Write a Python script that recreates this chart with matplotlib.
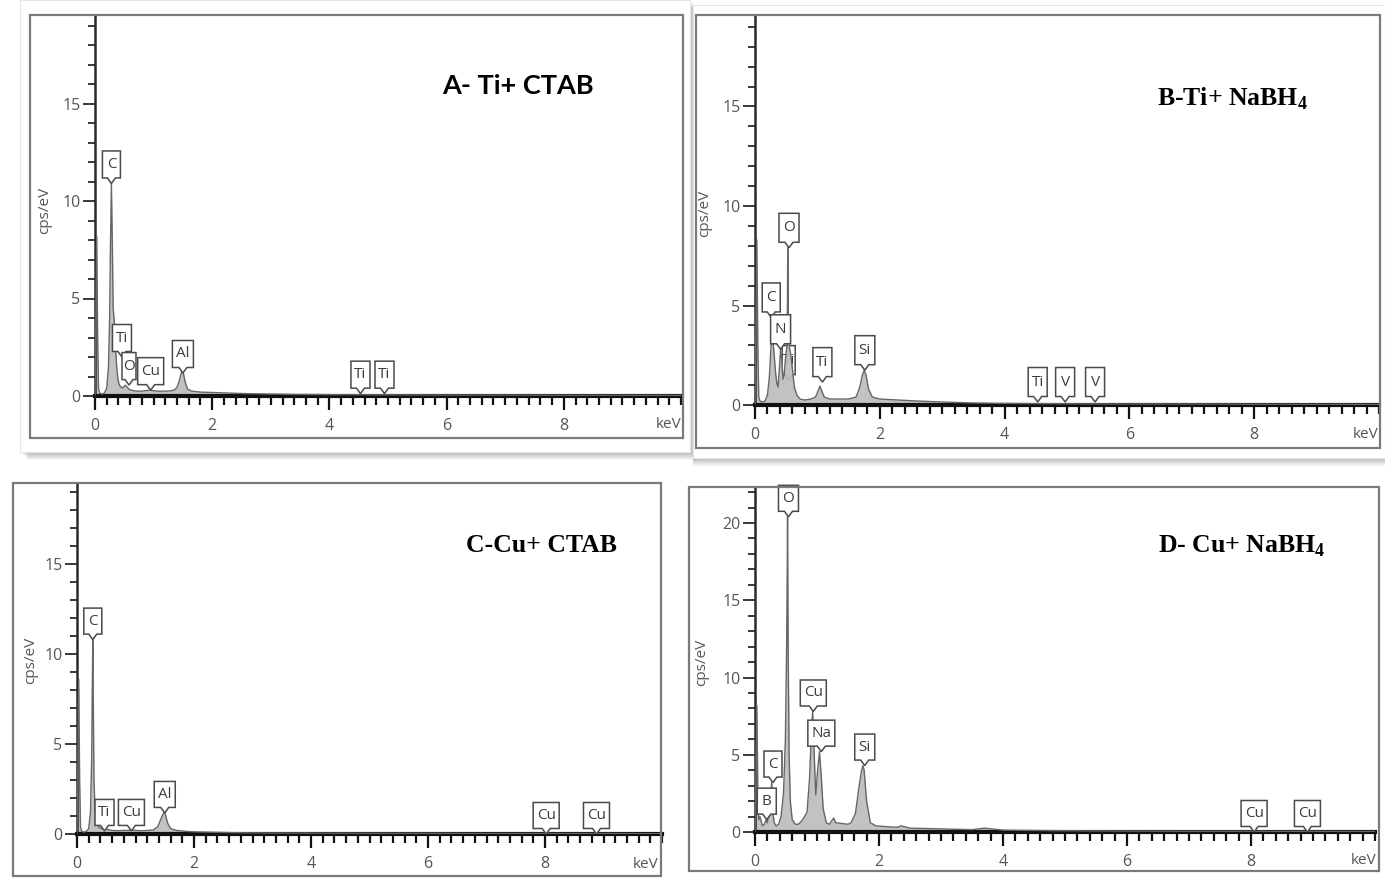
import matplotlib
matplotlib.use("Agg")
import matplotlib.pyplot as plt
from matplotlib.patches import Polygon, Rectangle
import matplotlib.transforms as mtransforms
from matplotlib.ticker import MultipleLocator

# ---------------- data ----------------
A_energy = [0.00, 0.015, 0.03, 0.045, 0.06, 0.08, 0.12, 0.16, 0.20, 0.23, 0.25, 0.265, 0.28, 0.295,
            0.31, 0.33, 0.35, 0.37, 0.39, 0.41, 0.43, 0.45, 0.47, 0.50, 0.52, 0.55, 0.58, 0.62, 0.70,
            0.80, 0.88, 0.93, 0.98, 1.05, 1.15, 1.25, 1.35, 1.40, 1.44, 1.47, 1.49, 1.51, 1.54, 1.58,
            1.65, 1.80, 2.00, 2.30, 2.60, 3.00, 3.50, 4.00, 4.50, 5.00, 6.00, 7.00, 8.00, 9.00, 10.00]
A_counts = [0.0, 4.0, 8.2, 3.0, 0.4, 0.15, 0.1, 0.15, 0.4, 1.5, 4.0, 8.0, 10.9, 8.0,
            4.5, 3.8, 2.5, 1.5, 0.9, 0.6, 0.5, 0.45, 0.4, 0.5, 0.55, 0.45, 0.35, 0.3, 0.25,
            0.25, 0.28, 0.3, 0.28, 0.25, 0.25, 0.25, 0.3, 0.45, 0.8, 1.15, 1.3, 1.15, 0.7, 0.35,
            0.25, 0.2, 0.18, 0.15, 0.12, 0.1, 0.08, 0.07, 0.07, 0.06, 0.05, 0.05, 0.04, 0.04, 0.03]

B_energy = [0.00, 0.015, 0.03, 0.045, 0.06, 0.08, 0.12, 0.16, 0.20, 0.23, 0.25, 0.27, 0.28, 0.29,
            0.31, 0.33, 0.35, 0.37, 0.39, 0.41, 0.43, 0.45, 0.47, 0.49, 0.51, 0.52, 0.525, 0.535,
            0.55, 0.57, 0.60, 0.63, 0.67, 0.72, 0.80, 0.90, 0.97, 1.01, 1.04, 1.07, 1.11, 1.20,
            1.35, 1.50, 1.62, 1.68, 1.72, 1.75, 1.78, 1.82, 1.88, 2.00, 2.30, 2.60, 3.00, 3.50,
            4.00, 5.00, 6.00, 7.00, 8.00, 9.00, 10.00]
B_counts = [0.0, 4.0, 8.3, 3.0, 0.4, 0.2, 0.15, 0.2, 0.5, 1.4, 2.6, 3.5, 4.4, 3.2,
            2.4, 1.6, 1.1, 0.9, 1.8, 2.8, 2.2, 1.3, 1.6, 2.4, 2.9, 5.0, 7.9, 4.0,
            2.9, 2.6, 1.8, 0.9, 0.5, 0.3, 0.25, 0.3, 0.4, 0.7, 0.95, 0.7, 0.4, 0.3,
            0.3, 0.3, 0.4, 0.9, 1.5, 1.75, 1.5, 0.8, 0.4, 0.3, 0.25, 0.2, 0.15, 0.1,
            0.08, 0.06, 0.05, 0.05, 0.04, 0.04, 0.03]

C_energy = [0.00, 0.015, 0.03, 0.045, 0.06, 0.08, 0.12, 0.16, 0.20, 0.23, 0.25, 0.26, 0.27, 0.28,
            0.29, 0.31, 0.34, 0.38, 0.42, 0.47, 0.52, 0.60, 0.70, 0.80, 0.90, 0.93, 1.00, 1.10,
            1.20, 1.30, 1.38, 1.43, 1.47, 1.49, 1.51, 1.55, 1.60, 1.70, 1.85, 2.00, 2.30, 2.60,
            3.00, 4.00, 5.00, 6.00, 7.00, 8.00, 8.05, 8.10, 9.00, 10.00]
C_counts = [0.0, 4.0, 8.6, 3.0, 0.4, 0.15, 0.1, 0.15, 0.3, 1.2, 4.0, 7.5, 10.8, 7.0,
            3.0, 1.2, 0.6, 0.35, 0.3, 0.35, 0.25, 0.2, 0.18, 0.2, 0.2, 0.22, 0.2, 0.18,
            0.2, 0.22, 0.4, 0.8, 1.1, 1.2, 1.1, 0.6, 0.3, 0.2, 0.15, 0.12, 0.1, 0.08,
            0.06, 0.05, 0.04, 0.04, 0.03, 0.03, 0.05, 0.03, 0.03, 0.02]

D_energy = [0.00, 0.015, 0.03, 0.045, 0.06, 0.08, 0.12, 0.15, 0.18, 0.20, 0.22, 0.25, 0.27, 0.28,
            0.29, 0.31, 0.34, 0.38, 0.42, 0.46, 0.49, 0.51, 0.52, 0.525, 0.535, 0.55, 0.57, 0.60,
            0.65, 0.70, 0.75, 0.80, 0.84, 0.88, 0.91, 0.93, 0.95, 0.98, 1.01, 1.04, 1.07, 1.10,
            1.15, 1.20, 1.25, 1.27, 1.30, 1.40, 1.50, 1.55, 1.62, 1.68, 1.72, 1.74, 1.76, 1.80,
            1.86, 1.95, 2.10, 2.30, 2.35, 2.50, 3.00, 3.50, 3.70, 4.00, 5.00, 6.00, 7.00, 8.00,
            9.00, 10.00]
D_counts = [0.0, 4.0, 8.2, 3.0, 0.8, 1.0, 0.4, 0.5, 0.8, 0.6, 1.2, 2.4, 3.2, 2.4,
            1.2, 0.6, 0.4, 0.5, 1.0, 2.5, 6.0, 12.0, 17.0, 20.4, 12.0, 5.0, 2.0, 0.8,
            0.5, 0.5, 0.7, 1.0, 1.3, 3.5, 6.5, 7.8, 5.5, 2.4, 4.0, 5.2, 3.5, 1.5,
            0.6, 0.5, 0.8, 0.9, 0.6, 0.55, 0.5, 0.6, 1.2, 3.0, 4.0, 4.3, 4.0, 2.0,
            0.6, 0.4, 0.35, 0.3, 0.4, 0.25, 0.2, 0.15, 0.25, 0.12, 0.08, 0.06, 0.05, 0.05,
            0.04, 0.03]

# element tags: label, energy (keV), pointer height (cps/eV)
A_tags = [("C", 0.28, 10.9), ("Ti", 0.46, 2.0), ("O", 0.58, 0.56), ("Cu", 0.95, 0.3),
          ("Al", 1.50, 1.18), ("Ti", 4.53, 0.12), ("Ti", 4.94, 0.12)]
B_tags = [("Ti", 0.54, 1.25), ("C", 0.26, 4.4), ("N", 0.41, 2.8), ("O", 0.545, 7.9),
          ("Ti", 1.08, 1.15), ("Si", 1.76, 1.75), ("Ti", 4.53, 0.15), ("V", 4.97, 0.15),
          ("V", 5.45, 0.15)]
C_tags = [("C", 0.27, 10.8), ("Ti", 0.47, 0.17), ("Cu", 0.93, 0.17), ("Al", 1.50, 1.17),
          ("Cu", 8.02, 0.0), ("Cu", 8.88, 0.0)]
D_tags = [("B", 0.19, 0.8), ("C", 0.29, 3.2), ("O", 0.54, 20.4), ("Cu", 0.94, 7.8),
          ("Na", 1.07, 5.2), ("Si", 1.77, 4.3), ("Cu", 8.05, 0.0), ("Cu", 8.91, 0.0)]

titles = ["A- Ti+ CTAB", "B-Ti+ NaBH", "C-Cu+ CTAB", "D- Cu+ NaBH"]

# ---------------- figure ----------------
W, H = 1385, 885
fig = plt.figure(figsize=(W / 100, H / 100), dpi=100)
fig.patch.set_facecolor("white")


def fx(x):
    return x / W


def fy(y):
    return 1 - y / H


def rect_px(x0, y0, x1, y1, **kw):
    r = Rectangle((fx(x0), fy(y1)), (x1 - x0) / W, (y1 - y0) / H,
                  transform=fig.transFigure, **kw)
    fig.add_artist(r)
    return r


# drop shadows / cards for top panels
for k in range(8, 0, -1):
    rect_px(20 + k, 0 + k, 690 + k, 452 + k, facecolor="#000000", alpha=0.035,
            edgecolor="none", zorder=-5)
rect_px(20, 0, 690, 452, facecolor="white", edgecolor="#e6e6e6", lw=0.8, zorder=-4)
for k in range(8, 0, -1):
    rect_px(693, 5 + k, 1385, 458 + k, facecolor="#000000", alpha=0.035,
            edgecolor="none", zorder=-5)
rect_px(693, 5, 1385, 458, facecolor="white", edgecolor="#e6e6e6", lw=0.8, zorder=-4)

# panel frames
frame_kw = dict(facecolor="none", edgecolor="#7a7a7a", lw=1.6, zorder=10)
rect_px(30, 15, 683, 438, **frame_kw)
rect_px(696, 15, 1380, 448, **frame_kw)
rect_px(13, 483, 661, 876, **frame_kw)
rect_px(689, 487, 1379, 871, **frame_kw)

# axes geometry in pixels: left, right, bottom(y of zero), ymax, px per unit y
panels = [
    dict(left=95, right=681, bottom=396, ymax=19.5, ppu=19.5, E=A_energy, I=A_counts,
         tags=A_tags, tag_h=27, ylab=(45, 210), kev=(669, 425)),
    dict(left=755, right=1379, bottom=405, ymax=19.6, ppu=19.9, E=B_energy, I=B_counts,
         tags=B_tags, tag_h=29, ylab=(705, 213), kev=(1366, 435)),
    dict(left=77, right=662, bottom=834, ymax=19.5, ppu=18.0, E=C_energy, I=C_counts,
         tags=C_tags, tag_h=26, ylab=(31, 660), kev=(646, 865)),
    dict(left=755, right=1375, bottom=832, ymax=22.3, ppu=15.45, E=D_energy, I=D_counts,
         tags=D_tags, tag_h=26, ylab=(702, 662), kev=(1364, 860)),
]

tag_w = {"C": 18, "O": 20, "N": 20, "B": 19, "V": 19, "Ti": 19, "Cu": 26, "Al": 21,
         "Si": 20, "Na": 27}

txt_font = ["Open Sans", "DejaVu Sans"]


def add_tag(ax, label, x, y, h, behind=False, w=None):
    if w is None:
        w = tag_w[label]
    tr = fig.dpi_scale_trans + mtransforms.ScaledTranslation(x, y, ax.transData)
    p = 5.5  # pointer depth px
    verts = [(0, 0), (-4, p), (-w / 2, p), (-w / 2, p + h), (w / 2, p + h), (w / 2, p),
             (4, p), (0, 0)]
    verts = [(a / 100.0, b / 100.0) for a, b in verts]
    z = 1.5 if behind else 5
    poly = Polygon(verts, closed=True, transform=tr, facecolor="white",
                   edgecolor="#4a4a4a", lw=1.1, zorder=z, clip_on=False)
    ax.add_artist(poly)
    ax.text(0, (p + h / 2) / 100.0, label, transform=tr, ha="center", va="center",
            fontsize=11, color="#3c3c3c", family=txt_font, zorder=z + 0.1, clip_on=False)


axes = []
for i, P in enumerate(panels):
    top = P["bottom"] - P["ymax"] * P["ppu"]
    ax = fig.add_axes([fx(P["left"]), fy(P["bottom"]), (P["right"] - P["left"]) / W,
                       (P["bottom"] - top) / H])
    ax.set_xlim(0, 10)
    ax.set_ylim(0, P["ymax"])
    ax.patch.set_alpha(0)
    for s in ("top", "right"):
        ax.spines[s].set_visible(False)
    ax.spines["left"].set_color("#2a2a2a")
    ax.spines["left"].set_linewidth(1.8)
    ax.spines["bottom"].set_color("#111111")
    ax.spines["bottom"].set_linewidth(3.0)
    ax.xaxis.set_major_locator(MultipleLocator(2))
    ax.xaxis.set_minor_locator(MultipleLocator(0.2))
    ax.yaxis.set_major_locator(MultipleLocator(5))
    ax.yaxis.set_minor_locator(MultipleLocator(1))
    ax.tick_params(axis="x", which="major", direction="out", length=10, width=1.6,
                   color="#111111", pad=6, labelsize=11.5, labelcolor="#555555")
    ax.tick_params(axis="x", which="minor", direction="out", length=6.5, width=1.6,
                   color="#111111")
    ax.tick_params(axis="y", which="major", direction="out", length=8.5, width=1.3,
                   color="#2a2a2a", pad=2, labelsize=11.5, labelcolor="#555555")
    ax.tick_params(axis="y", which="minor", direction="out", length=5, width=1.3,
                   color="#2a2a2a")
    for lab in ax.get_xticklabels() + ax.get_yticklabels():
        lab.set_family(txt_font)
    ax.set_xticks([0, 2, 4, 6, 8])

    ax.fill_between(P["E"], 0, P["I"], color="#bdbdbd", lw=0, zorder=2, alpha=0.92)
    ax.plot(P["E"], P["I"], color="#666666", lw=1.0, zorder=3)

    for j, (lab, xe, ye) in enumerate(P["tags"]):
        behind = (i == 1 and j == 0)
        w = None
        if i == 0 and lab == "O":
            w = 14
        if behind:
            w = 13
        add_tag(ax, lab, xe, ye, P["tag_h"], behind=behind, w=w)

    fig.text(fx(P["ylab"][0]), fy(P["ylab"][1]), "cps/eV", rotation=90, ha="center",
             va="center", fontsize=11, color="#555555", family=txt_font)
    fig.text(fx(P["kev"][0]), fy(P["kev"][1]), "keV", ha="center", va="center",
             fontsize=11, color="#555555", family=txt_font)
    axes.append(ax)

# panel titles
fig.text(fx(518), fy(86), titles[0], ha="center", va="center", fontsize=19.5,
         fontweight="bold", family=["Lato", "DejaVu Sans"], color="black")
serif = ["Liberation Serif", "DejaVu Serif"]
fig.text(fx(1232), fy(99), titles[1] + r"$_\mathregular{4}$", ha="center", va="center",
         fontsize=18.5, fontweight="bold", family=serif, color="black")
fig.text(fx(541), fy(545), titles[2], ha="center", va="center", fontsize=18.5,
         fontweight="bold", family=serif, color="black")
fig.text(fx(1242), fy(546), titles[3] + r"$_\mathregular{4}$", ha="center", va="center",
         fontsize=18.5, fontweight="bold", family=serif, color="black")

fig.savefig("out.png", dpi=100, facecolor="white")
